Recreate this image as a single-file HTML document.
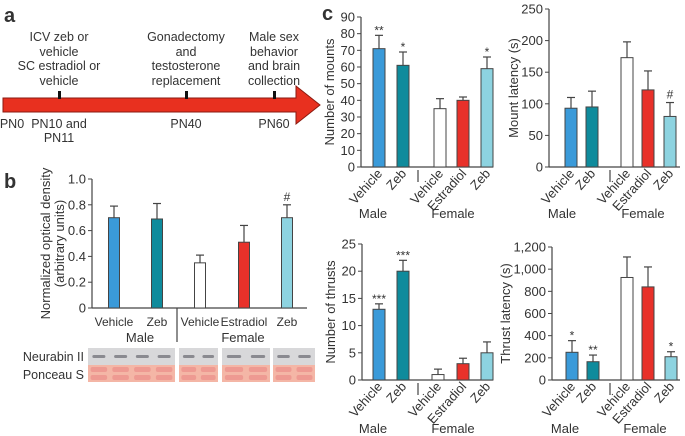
<!DOCTYPE html>
<html><head><meta charset="utf-8"><style>
body{margin:0;background:#fff}
svg{display:block;font-family:"Liberation Sans",Arial,sans-serif;fill:#333}
text{fill:#333}
</style></head><body>
<svg id="fig" width="685" height="436" viewBox="0 0 685 436">
<g>
<text x="4" y="22" font-size="20" font-weight="bold" fill="#222">a</text>
<path d="M3,98 L296,98 L296,86 L320,105 L296,124 L296,112 L3,112 Z" fill="#e8301f" stroke="#8a1a10" stroke-width="1"/>
<rect x="58" y="91" width="3" height="8" fill="#111"/>
<rect x="185" y="91" width="3" height="8" fill="#111"/>
<rect x="273" y="91" width="3" height="8" fill="#111"/>
<g font-size="12.5" text-anchor="middle">
<text x="59" y="41">ICV zeb or</text><text x="59" y="56">vehicle</text><text x="59" y="70">SC estradiol or</text><text x="59" y="85">vehicle</text>
<text x="186" y="41">Gonadectomy</text><text x="186" y="56">and</text><text x="186" y="70">testosterone</text><text x="186" y="85">replacement</text>
<text x="274" y="41">Male sex</text><text x="274" y="56">behavior</text><text x="274" y="70">and brain</text><text x="274" y="85">collection</text>
<text x="12" y="128">PN0</text><text x="59" y="128">PN10 and</text><text x="59" y="142">PN11</text><text x="186" y="128">PN40</text><text x="274" y="128">PN60</text>
</g></g>
<text x="4" y="188" font-size="20" font-weight="bold" fill="#222">b</text>
<text x="322" y="20" font-size="20" font-weight="bold" fill="#222">c</text>
<g>
<text x="84" y="361" font-size="12.5" text-anchor="end">Neurabin II</text>
<text x="84" y="379" font-size="12.5" text-anchor="end">Ponceau S</text>
<g id="blots"></g>
</g>
</svg>
<script>
// Panel b data
const bCats=["Vehicle","Zeb","Vehicle","Estradiol","Zeb"];
const bVals=[0.70,0.69,0.35,0.51,0.70];
const bErr=[0.09,0.12,0.06,0.13,0.10];
const bSig=["","","","","#"];
const bTicks=[0,0.2,0.4,0.6,0.8,1.0];
// Panel c data
const mountVals=[71,61,35,40,59];
const mountErr=[8,8,6,2,7];
const mountSig=["**","*","","","*"];
const mountTicks=[0,10,20,30,40,50,60,70,80,90];
const mlatVals=[93,95,173,122,80];
const mlatErr=[17,25,25,30,22];
const mlatSig=["","","","","#"];
const mlatTicks=[0,50,100,150,200,250];
const thrVals=[13,20,1,3,5];
const thrErr=[1,2,1,1,2];
const thrSig=["***","***","","",""];
const thrTicks=[0,5,10,15,20,25];
const tlatVals=[250,165,925,840,210];
const tlatErr=[105,60,185,180,45];
const tlatSig=["*","**","","","*"];
const tlatTicks=[0,200,400,600,800,1000,1200];
const tlatTickLabels=["0","200","400","600","800","1,000","1,200"];
const colors=["#3a9ad9","#0f8b9c","#ffffff","#e8312a","#8dd3e0"];

const NS="http://www.w3.org/2000/svg";
const svg=document.getElementById('fig');
function mk(tag,attrs,parent){const e=document.createElementNS(NS,tag);for(const k in attrs)e.setAttribute(k,attrs[k]);(parent||svg).appendChild(e);return e;}

function chart(o){
  const fs=o.fs||13;
  const g=mk('g',{});
  
  
  const ymax=o.ticks[o.ticks.length-1];
  const y=v=>o.y0-(v/ymax)*(o.y0-o.y1);
  const x=i=>o.xs[i];
  mk('line',{x1:o.ax,y1:o.y1,x2:o.ax,y2:o.y0,stroke:'#444','stroke-width':1.2},g);
  mk('line',{x1:o.ax,y1:o.y0,x2:o.xend,y2:o.y0,stroke:'#444','stroke-width':1.2},g);
  o.ticks.forEach((t,i)=>{
    mk('line',{x1:o.ax-4,y1:y(t),x2:o.ax,y2:y(t),stroke:'#444'},g);
    const tx=mk('text',{x:o.ax-6,y:y(t)+4.5,'font-size':fs,'text-anchor':'end'},g);
    tx.textContent=o.tickLabels?o.tickLabels[i]:String(t);
    
    
  });
  const yt=mk('text',{x:0,y:0,'font-size':fs,'text-anchor':'middle',transform:`translate(${o.ytx},${(o.y0+o.y1)/2}) rotate(-90)`},g);
  
  
  o.ytitle.forEach((l,i)=>{const ts=mk('tspan',{x:0,dy:i?14:0},yt);ts.textContent=l;});
  o.vals.forEach((v,i)=>{
    const top=y(v),te=y(v+o.err[i]);
    const eb=mk('line',{x1:x(i),y1:top,x2:x(i),y2:te,stroke:'#444','stroke-width':1.2},g);
    
    
    mk('line',{x1:x(i)-4,y1:te,x2:x(i)+4,y2:te,stroke:'#444','stroke-width':1.2},g);
    const r=mk('rect',{x:x(i)-o.bw/2,y:top,width:o.bw,height:o.y0-top,fill:colors[i],stroke:'#444','stroke-width':1},g);
    
    
    if(o.sig[i]){const s=mk('text',{x:x(i),y:te-(o.sig[i]==='#'?4:1),'font-size':12,'text-anchor':'middle'},g);s.textContent=o.sig[i];
      
      }
    let lab;
    if(o.rot){lab=mk('text',{x:0,y:0,'font-size':fs,'text-anchor':'end',transform:`translate(${x(i)+4},${o.y0+7}) rotate(-48)`},g);}
    else{lab=mk('text',{x:x(i),y:o.y0+18,'font-size':o.labfs||fs,'text-anchor':'middle'},g);}
    lab.textContent=o.cats[i];
    
    
  });
  mk('line',{x1:o.sep,y1:o.y0+(o.rot?3:0),x2:o.sep,y2:o.sepEnd,stroke:'#444','stroke-width':1.2},g);
  const m=mk('text',{x:o.male,y:o.gy,'font-size':fs,'text-anchor':'middle'},g);m.textContent='Male';
  
  
  const f=mk('text',{x:o.female,y:o.gy,'font-size':fs,'text-anchor':'middle'},g);f.textContent='Female';
  
  
}
chart({name:'panel-b-chart',cats:bCats,vals:bVals,err:bErr,sig:bSig,ticks:bTicks,tickLabels:["0","0.2","0.4","0.6","0.8","1.0"],
 ax:92,xend:307,y0:308,y1:179,xs:[114,157,200,244,287],bw:11,ytx:50,ytitle:["Normalized optical density","(arbitrary units)"],
 sep:177,sepEnd:342,male:140,female:243,gy:342,rot:false,labfs:12});
chart({name:'mounts-chart',cats:bCats,vals:mountVals,err:mountErr,sig:mountSig,ticks:mountTicks,
 ax:361,xend:493,y0:167,y1:17,xs:[379,403,440,463,487],bw:12,ytx:334,ytitle:["Number of mounts"],
 sep:418,sepEnd:182,male:373,female:453,gy:218,rot:true});
chart({name:'mount-latency-chart',cats:bCats,vals:mlatVals,err:mlatErr,sig:mlatSig,ticks:mlatTicks,
 ax:549,xend:680,y0:167,y1:9,xs:[571,592,627,648,670],bw:12,ytx:518,ytitle:["Mount latency (s)"],
 sep:610,sepEnd:182,male:562,female:643,gy:218,rot:true});
chart({name:'thrusts-chart',cats:bCats,vals:thrVals,err:thrErr,sig:thrSig,ticks:thrTicks,
 ax:362,xend:493,y0:380,y1:244,xs:[379,403,438,463,487],bw:12,ytx:335,ytitle:["Number of thrusts"],
 sep:418,sepEnd:395,male:373,female:453,gy:433,rot:true});
chart({name:'thrust-latency-chart',cats:bCats,vals:tlatVals,err:tlatErr,sig:tlatSig,ticks:tlatTicks,tickLabels:tlatTickLabels,
 ax:552,xend:680,y0:380,y1:247,xs:[572,593,627,648,671],bw:12,ytx:510,ytitle:["Thrust latency (s)"],
 sep:610,sepEnd:395,male:565,female:645,gy:433,rot:true});
// blots
const bl=document.getElementById('blots');
[[88,175,4],[179,218,2],[222,270,2],[273,315,2]].forEach(([a,b,n])=>{
  mk('rect',{x:a,y:348,width:b-a,height:17,fill:'#d8d8da'},bl);
  mk('rect',{x:a,y:365,width:b-a,height:17,fill:'#f4b6a6'},bl);
  const w=(b-a)/n;
  for(let i=0;i<n;i++){
    mk('rect',{x:a+w*i+w*0.2,y:355,width:w*0.6,height:3,rx:1.5,fill:'#8a8a90'},bl);
    mk('rect',{x:a+w*i+w*0.12,y:367,width:w*0.76,height:5,rx:2,fill:'#ee9a92'},bl);
    mk('rect',{x:a+w*i+w*0.12,y:375,width:w*0.76,height:5,rx:2,fill:'#ee9a92'},bl);
  }
});
</script>
</body></html>
